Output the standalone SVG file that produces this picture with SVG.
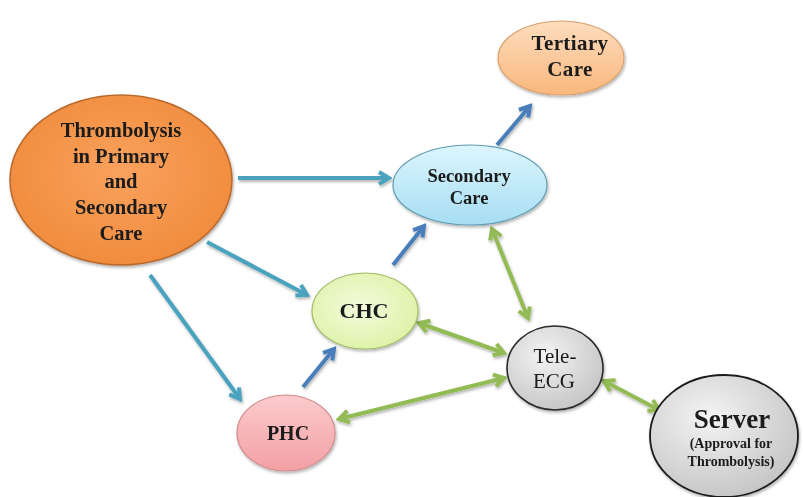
<svg xmlns="http://www.w3.org/2000/svg" width="803" height="497" viewBox="0 0 803 497">
<defs>
  <radialGradient id="gOrange" cx="0.5" cy="0.45" r="0.6">
    <stop offset="0" stop-color="#F9A25E"/>
    <stop offset="1" stop-color="#F08A3A"/>
  </radialGradient>
  <linearGradient id="gBlue" x1="0" y1="0" x2="0" y2="1">
    <stop offset="0" stop-color="#DDF5FD"/>
    <stop offset="1" stop-color="#A6DEF3"/>
  </linearGradient>
  <linearGradient id="gPeach" x1="0" y1="0" x2="0" y2="1">
    <stop offset="0" stop-color="#FDDDBE"/>
    <stop offset="1" stop-color="#F9B77C"/>
  </linearGradient>
  <radialGradient id="gGreen" cx="0.45" cy="0.45" r="0.6">
    <stop offset="0" stop-color="#F4FBDD"/>
    <stop offset="1" stop-color="#DDF2A6"/>
  </radialGradient>
  <linearGradient id="gPink" x1="0" y1="0" x2="0" y2="1">
    <stop offset="0" stop-color="#FBCBCD"/>
    <stop offset="1" stop-color="#F3A0A4"/>
  </linearGradient>
  <radialGradient id="gGray" cx="0.4" cy="0.35" r="0.7">
    <stop offset="0" stop-color="#F4F4F4"/>
    <stop offset="1" stop-color="#C4C4C4"/>
  </radialGradient>
  <filter id="sh" x="-20%" y="-20%" width="140%" height="140%">
    <feDropShadow dx="1" dy="2" stdDeviation="1.5" flood-color="#000" flood-opacity="0.3"/>
  </filter>
  <marker id="mTeal" viewBox="0 0 16 16" markerWidth="16" markerHeight="16" refX="13" refY="8" orient="auto-start-reverse" markerUnits="userSpaceOnUse">
    <path d="M3,2 L13,8 L3,14" fill="none" stroke="#4AA3BE" stroke-width="4" stroke-linejoin="miter"/>
  </marker>
  <marker id="mBlue" viewBox="0 0 16 16" markerWidth="16" markerHeight="16" refX="13" refY="8" orient="auto-start-reverse" markerUnits="userSpaceOnUse">
    <path d="M3,2 L13,8 L3,14" fill="none" stroke="#4A7EBB" stroke-width="4" stroke-linejoin="miter"/>
  </marker>
  <marker id="mGreen" viewBox="0 0 16 16" markerWidth="16" markerHeight="16" refX="13" refY="8" orient="auto-start-reverse" markerUnits="userSpaceOnUse">
    <path d="M3,2 L13,8 L3,14" fill="none" stroke="#93BB55" stroke-width="4" stroke-linejoin="miter"/>
  </marker>
</defs>
<style>
  .node { filter: url(#sh); }
  .t { font-family: "Liberation Serif", "Times New Roman", serif; font-weight: bold; fill: #1a1a1a; text-anchor: middle; }
  .r { font-family: "Liberation Serif", "Times New Roman", serif; fill: #1a1a1a; text-anchor: middle; }
  .teal { stroke: #4AA3BE; stroke-width: 4; fill: none; marker-end: url(#mTeal); }
  .blue { stroke: #4A7EBB; stroke-width: 4; fill: none; marker-end: url(#mBlue); }
  .green { stroke: #93BB55; stroke-width: 4; fill: none; marker-end: url(#mGreen); marker-start: url(#mGreen); }
</style>
<rect width="803" height="497" fill="#FFFFFF"/>

<g id="connectors" filter="url(#sh)">
  <line class="teal" x1="238" y1="178" x2="389" y2="178"/>
  <line class="teal" x1="207" y1="242" x2="307" y2="295"/>
  <line class="teal" x1="150" y1="275" x2="240" y2="399"/>
  <line class="blue" x1="393" y1="265" x2="424" y2="226"/>
  <line class="blue" x1="303" y1="387" x2="334" y2="349"/>
  <line class="blue" x1="497" y1="145" x2="530" y2="106"/>
  <line class="green" x1="492" y1="229" x2="528" y2="318"/>
  <line class="green" x1="419" y1="323" x2="504" y2="353"/>
  <line class="green" x1="339" y1="419" x2="504" y2="378"/>
  <line class="green" x1="604" y1="381" x2="659" y2="410"/>
</g>

<g id="thrombolysis" class="node">
  <ellipse cx="121" cy="180" rx="111" ry="85" fill="url(#gOrange)" stroke="#B8682C" stroke-width="1.5"/>
  <text class="t" font-size="20.5" x="121" y="137">Thrombolysis</text>
  <text class="t" font-size="20.5" x="121" y="163">in Primary</text>
  <text class="t" font-size="20.5" x="121" y="188">and</text>
  <text class="t" font-size="20.5" x="121" y="214">Secondary</text>
  <text class="t" font-size="20.5" x="121" y="240">Care</text>
</g>

<g id="tertiary" class="node">
  <ellipse cx="561" cy="58" rx="63" ry="37" fill="url(#gPeach)" stroke="#D9A06C" stroke-width="1.2"/>
  <text class="t" font-size="21" letter-spacing="0.4" x="570" y="50">Tertiary</text>
  <text class="t" font-size="21" letter-spacing="0.4" x="570" y="76">Care</text>
</g>

<g id="secondary" class="node">
  <ellipse cx="470" cy="185" rx="77" ry="40" fill="url(#gBlue)" stroke="#5F9DB2" stroke-width="1.2"/>
  <text class="t" font-size="18.5" x="469" y="182">Secondary</text>
  <text class="t" font-size="18.5" x="469" y="204">Care</text>
</g>

<g id="chc" class="node">
  <ellipse cx="365" cy="311" rx="53" ry="38" fill="url(#gGreen)" stroke="#9EBB63" stroke-width="1.2"/>
  <text class="t" font-size="22" x="364" y="318">CHC</text>
</g>

<g id="phc" class="node">
  <ellipse cx="286" cy="433" rx="49" ry="38" fill="url(#gPink)" stroke="#D08A8C" stroke-width="1.2"/>
  <text class="t" font-size="20" x="288" y="440">PHC</text>
</g>

<g id="tele-ecg" class="node">
  <ellipse cx="555" cy="368" rx="48" ry="42" fill="url(#gGray)" stroke="#2a2a2a" stroke-width="1.6"/>
  <text class="r" font-size="21" x="555" y="363">Tele-</text>
  <text class="r" font-size="21" x="554" y="388">ECG</text>
</g>

<g id="server" class="node">
  <ellipse cx="724" cy="436" rx="74" ry="61" fill="url(#gGray)" stroke="#1a1a1a" stroke-width="1.8"/>
  <text class="t" font-size="27" x="732" y="428">Server</text>
  <text class="t" font-size="14" x="731" y="448">(Approval for</text>
  <text class="t" font-size="14" x="731" y="466">Thrombolysis)</text>
</g>
</svg>
